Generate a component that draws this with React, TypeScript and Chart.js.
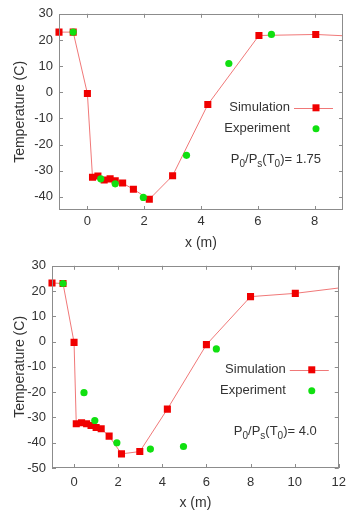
import React, { useEffect, useRef } from "react";
import { Chart, registerables } from "chart.js";
Chart.register(...registerables);

// ---------- Data: top panel (P0/Ps(T0) = 1.75) ----------
const topSimX = [-1, -0.5, 0, 0.18, 0.37, 0.59, 0.8, 0.98, 1.24, 1.62, 2.18, 3.0, 4.24, 6.04, 8.04, 10];
const topSimY = [23, 23, -0.5, -32.5, -32, -33.5, -33.1, -33.8, -34.7, -37.1, -40.9, -31.9, -4.7, 21.7, 22.1, 21.1];
const topExpX = [-0.5, 0.47, 0.98, 1.97, 3.49, 4.98, 6.48];
const topExpY = [23, -33.1, -35, -40.2, -24.1, 11, 22.1];
const topXTicks = [0, 2, 4, 6, 8];
const topYTicks = [-40, -30, -20, -10, 0, 10, 20, 30];

// ---------- Data: bottom panel (P0/Ps(T0) = 4.0) ----------
const botSimX = [-1, -0.5, 0, 0.1, 0.34, 0.57, 0.77, 1.0, 1.23, 1.59, 2.15, 2.98, 4.23, 6.0, 8.0, 10.03, 13];
const botSimY = [23.2, 23, -0.3, -32.5, -32.1, -32.5, -33.2, -34, -34.5, -37.4, -44.4, -43.5, -26.7, -1.2, 17.8, 19.1, 22.3];
const botExpX = [-0.5, 0.45, 0.94, 1.94, 3.46, 4.96, 6.45];
const botExpY = [23, -20.2, -31.2, -40, -42.5, -41.5, -2.9];
const botXTicks = [0, 2, 4, 6, 8, 10, 12];
const botYTicks = [-50, -40, -30, -20, -10, 0, 10, 20, 30];

const legendLabels = ["Simulation", "Experiment"];
const xTitle = "x (m)";
const yTitle = "Temperature (C)";
const topRatio = "1.75";
const botRatio = "4.0";

const FONT = "'Liberation Sans', Arial, Helvetica, sans-serif";
const RED = "#f00000";
const LINE = "#f07878";
const GREEN = "#10e010";
const TEXT = "#333333";
const AXIS = "#8c8c8c";

type PanelCfg = {
  simX: number[]; simY: number[]; expX: number[]; expY: number[];
  xTicks: number[]; yTicks: number[];
  xMin: number; xMax: number; yMin: number; yMax: number;
  ratio: string;
  width: number; height: number;
  yAxisWidth: number; xAxisHeight: number;
  padTop: number; padRight: number;
  tickPad: number; titleBottomPad: number;
  legendY: number[]; ratioY: number;
};

function gnuPlugin(cfg: PanelCfg) {
  return {
    id: "gnuDecor",
    afterDraw(chart: any) {
      const { ctx, chartArea: a, scales } = chart;
      const xs = scales.x, ys = scales.y;
      ctx.save();
      ctx.strokeStyle = AXIS;
      ctx.lineWidth = 1;
      ctx.strokeRect(Math.round(a.left) + 0.5, Math.round(a.top) + 0.5,
        Math.round(a.right - a.left) - 1, Math.round(a.bottom - a.top) - 1);
      const tl = 4;
      ctx.beginPath();
      cfg.xTicks.forEach((v) => {
        const px = Math.round(xs.getPixelForValue(v)) + 0.5;
        ctx.moveTo(px, a.bottom); ctx.lineTo(px, a.bottom - tl);
        ctx.moveTo(px, a.top); ctx.lineTo(px, a.top + tl);
      });
      cfg.yTicks.forEach((v) => {
        const py = Math.round(ys.getPixelForValue(v)) + 0.5;
        ctx.moveTo(a.left, py); ctx.lineTo(a.left + tl, py);
        ctx.moveTo(a.right, py); ctx.lineTo(a.right - tl, py);
      });
      ctx.stroke();

      // legend (gnuplot style: text, then sample)
      ctx.font = `13px ${FONT}`;
      ctx.fillStyle = TEXT;
      ctx.textAlign = "right";
      ctx.textBaseline = "middle";
      const textR = a.right - 53;
      const ly0 = a.top + cfg.legendY[0];
      const ly1 = a.top + cfg.legendY[1];
      ctx.fillText(legendLabels[0], textR, ly0);
      ctx.fillText(legendLabels[1], textR, ly1);
      ctx.strokeStyle = LINE;
      ctx.beginPath();
      ctx.moveTo(a.right - 49, Math.round(ly0) + 0.5);
      ctx.lineTo(a.right - 10, Math.round(ly0) + 0.5);
      ctx.stroke();
      const mx = a.right - 27;
      ctx.fillStyle = RED;
      ctx.fillRect(mx - 3.5, ly0 - 3.5, 7, 7);
      ctx.fillStyle = GREEN;
      ctx.beginPath();
      ctx.arc(mx, ly1, 3.5, 0, Math.PI * 2);
      ctx.fill();

      // annotation P0/Ps(T0)= value
      const segs: [string, boolean][] = [
        ["P", false], ["0", true], ["/P", false], ["s", true], ["(T", false], ["0", true], [")= " + cfg.ratio, false],
      ];
      const ry = a.top + cfg.ratioY;
      let total = 0;
      segs.forEach(([t, sub]) => {
        ctx.font = `${sub ? 10 : 13}px ${FONT}`;
        total += ctx.measureText(t).width;
      });
      let x = a.right - 22 - total;
      ctx.textAlign = "left";
      ctx.fillStyle = TEXT;
      segs.forEach(([t, sub]) => {
        ctx.font = `${sub ? 10 : 13}px ${FONT}`;
        ctx.fillText(t, x, sub ? ry + 4 : ry);
        x += ctx.measureText(t).width;
      });
      ctx.restore();
    },
  };
}

function Panel({ cfg, top }: { cfg: PanelCfg; top: number }) {
  const ref = useRef<HTMLCanvasElement | null>(null);
  useEffect(() => {
    if (!ref.current) return;
    const sim = cfg.simX.map((x, i) => ({ x, y: cfg.simY[i] }));
    const exp = cfg.expX.map((x, i) => ({ x, y: cfg.expY[i] }));
    const chart = new Chart(ref.current, {
      type: "scatter",
      data: {
        datasets: [
          {
            label: legendLabels[1],
            data: exp,
            showLine: false,
            pointStyle: "circle",
            pointRadius: 3.6,
            backgroundColor: GREEN,
            borderWidth: 0,
            order: 0,
            clip: { left: 10, top: 10, right: 0, bottom: 10 } as any,
          },
          {
            label: legendLabels[0],
            data: sim,
            showLine: true,
            borderColor: LINE,
            borderWidth: 1,
            pointStyle: "rect",
            pointRadius: 5,
            pointBackgroundColor: RED,
            pointBorderWidth: 0,
            order: 1,
            clip: { left: 10, top: 10, right: 0, bottom: 10 } as any,
          } as any,
        ],
      },
      options: {
        responsive: false,
        animation: false,
        devicePixelRatio: 1,
        layout: { padding: { top: cfg.padTop, right: cfg.padRight, left: 0, bottom: 0 } },
        plugins: { legend: { display: false }, tooltip: { enabled: false } },
        scales: {
          x: {
            type: "linear",
            min: cfg.xMin,
            max: cfg.xMax,
            grid: { display: false, drawTicks: false },
            border: { display: false },
            afterBuildTicks: (s: any) => { s.ticks = cfg.xTicks.map((v) => ({ value: v })); },
            afterFit: (s: any) => { s.height = cfg.xAxisHeight; },
            ticks: {
              font: { family: FONT, size: 13 },
              color: TEXT,
              padding: cfg.tickPad,
              maxRotation: 0,
              callback: (v: any) => String(v),
            },
            title: {
              display: true,
              text: xTitle,
              font: { family: FONT, size: 14 },
              color: TEXT,
              padding: { top: 0, bottom: cfg.titleBottomPad },
            },
          },
          y: {
            type: "linear",
            min: cfg.yMin,
            max: cfg.yMax,
            grid: { display: false, drawTicks: false },
            border: { display: false },
            afterBuildTicks: (s: any) => { s.ticks = cfg.yTicks.map((v) => ({ value: v })); },
            afterFit: (s: any) => { s.width = cfg.yAxisWidth; },
            ticks: {
              font: { family: FONT, size: 13 },
              color: TEXT,
              padding: 6,
              callback: (v: any) => String(v),
            },
            title: {
              display: true,
              text: yTitle,
              font: { family: FONT, size: 14 },
              color: TEXT,
              padding: { top: 12, bottom: 0 },
            },
          },
        },
      },
      plugins: [gnuPlugin(cfg)],
    });
    return () => chart.destroy();
  }, [cfg]);
  return (
    <canvas
      ref={ref}
      width={cfg.width}
      height={cfg.height}
      style={{ position: "absolute", left: 0, top, width: cfg.width, height: cfg.height }}
    />
  );
}

const topCfg: PanelCfg = {
  simX: topSimX, simY: topSimY, expX: topExpX, expY: topExpY,
  xTicks: topXTicks, yTicks: topYTicks,
  xMin: -1, xMax: 9, yMin: -45, yMax: 30,
  ratio: topRatio,
  width: 353, height: 252,
  yAxisWidth: 59, xAxisHeight: 42,
  padTop: 10, padRight: 10,
  tickPad: 4, titleBottomPad: 0,
  legendY: [94, 115], ratioY: 146,
};

const botCfg: PanelCfg = {
  simX: botSimX, simY: botSimY, expX: botExpX, expY: botExpY,
  xTicks: botXTicks, yTicks: botYTicks,
  xMin: -1, xMax: 12, yMin: -50, yMax: 30,
  ratio: botRatio,
  width: 353, height: 261,
  yAxisWidth: 52, xAxisHeight: 45,
  padTop: 10, padRight: 8,
  tickPad: 7, titleBottomPad: 1,
  legendY: [104, 125], ratioY: 166,
};

export default function App() {
  return (
    <div style={{ position: "absolute", left: 0, top: 0, width: 353, height: 513, background: "#fff" }}>
      <Panel cfg={topCfg} top={0} />
      <Panel cfg={botCfg} top={252} />
    </div>
  );
}
